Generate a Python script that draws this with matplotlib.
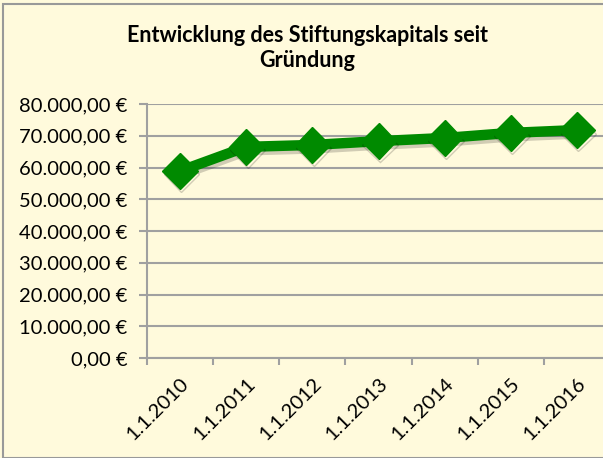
import matplotlib.pyplot as plt
import matplotlib.patches as patches
import matplotlib.patheffects as pe
from matplotlib.ticker import FuncFormatter

# ----------------------------
# Data
# ----------------------------

DATES = ["1.1.2010", "1.1.2011", "1.1.2012", "1.1.2013",
         "1.1.2014", "1.1.2015", "1.1.2016"]
KAPITAL = [58900, 66500, 67100, 68300, 69300, 70900, 71800]

TITLE = "Entwicklung des Stiftungskapitals seit\nGründung"

BG = "#FFFADC"
GREEN = "#008A00"
GRID = "#A0A0A0"

plt.rcParams["font.family"] = ["Lato", "DejaVu Sans"]


def euro(v, _pos):
    s = f"{v:,.2f}".replace(",", "X").replace(".", ",").replace("X", ".")
    return f"{s} €"


fig = plt.figure(figsize=(6.03, 4.58), dpi=100, facecolor=BG)
ax = fig.add_axes([147 / 603, 1 - 358 / 458, 463 / 603, 254 / 458])
ax.set_facecolor(BG)

x = list(range(len(DATES)))
ax.plot(x, KAPITAL, color=GREEN, lw=7.5, marker="D", ms=18,
        markeredgecolor=GREEN, solid_joinstyle="miter", zorder=3,
        path_effects=[pe.SimpleLineShadow(offset=(1, -2.5), alpha=0.18),
                      pe.Normal()])

ax.set_xlim(-0.5, len(DATES) - 0.5)
ax.set_ylim(0, 80000)
ax.set_yticks(range(0, 80001, 10000))
ax.yaxis.set_major_formatter(FuncFormatter(euro))
ax.set_xticks([i - 0.5 for i in range(len(DATES) + 1)], minor=False)
ax.set_xticklabels([])
ax.set_xticks(x, minor=True)
ax.set_xticklabels(DATES, minor=True, rotation=45, ha="right",
                   rotation_mode="anchor", fontsize=14.5)
ax.tick_params(axis="x", which="minor", length=0, pad=12)
ax.tick_params(axis="x", which="major", length=5, color=GRID, width=1.5)
ax.tick_params(axis="y", length=6, color=GRID, width=1.5, labelsize=14.5,
               pad=8)

ax.grid(axis="y", color=GRID, lw=1.5)
ax.set_axisbelow(True)
for side in ("top", "right"):
    ax.spines[side].set_visible(False)
for side in ("left", "bottom"):
    ax.spines[side].set_color(GRID)
    ax.spines[side].set_linewidth(1.5)

fig.text(0.51, 1 - 48 / 458, TITLE, ha="center", va="center",
         fontsize=15.5, fontweight="bold", linespacing=1.25)

fig.patches.append(patches.Rectangle((3 / 603, 0), 1, 1 - 4 / 458,
                                     transform=fig.transFigure, fill=False,
                                     edgecolor="#999999", lw=1.5))

fig.savefig("out.png", dpi=100, facecolor=BG)
